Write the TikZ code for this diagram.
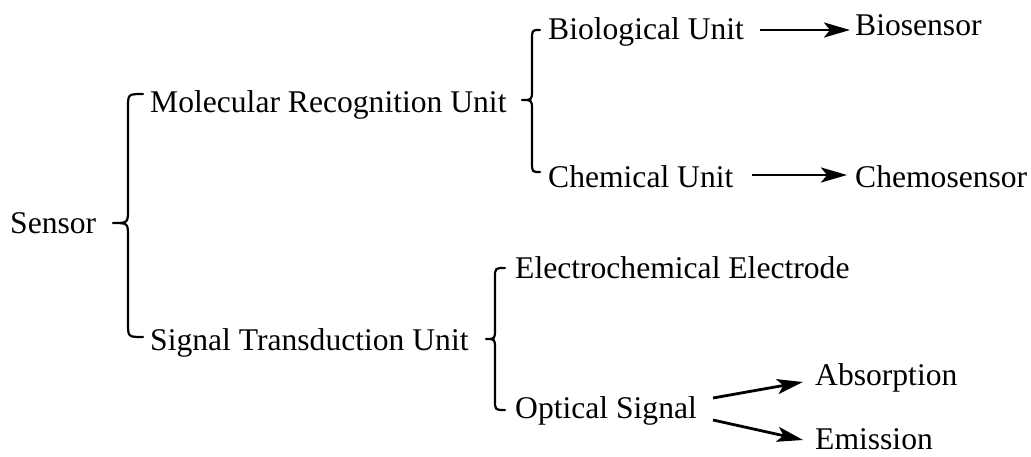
\documentclass[tikz,border=0pt]{standalone}
\usepackage{fontspec}
\setmainfont{Liberation Serif}
\usetikzlibrary{arrows.meta}
\tikzset{
  lbl/.style={anchor=base west, inner sep=0pt, font=\fontsize{31.6}{36}\selectfont},
  brc/.style={line width=2.2pt, line cap=round, line join=round},
  arr/.style={line width=2.8pt, -{Stealth[length=26pt,width=15pt,inset=6pt]}},
}
\newcommand\mybrace[7]{% xend xvert xtip ytop ymid ybot r
  \draw[brc] (#1,#4) .. controls (#2,#4) .. (#2,#4+#7) -- (#2,#5-#7)
    .. controls (#2,#5) .. (#3,#5) .. controls (#2,#5) .. (#2,#5+#7)
    -- (#2,#6-#7) .. controls (#2,#6) .. (#1,#6);}
\begin{document}
\begin{tikzpicture}[x=1pt,y=-1pt]
\useasboundingbox (0,0) rectangle (1031,456);
\node[lbl] (sensor) at (10,233) {Sensor};
\node[lbl] (mru) at (150,112) {Molecular Recognition Unit};
\node[lbl] (stu) at (150,350) {Signal Transduction Unit};
\node[lbl] (bio) at (548,39) {Biological Unit};
\node[lbl] (chem) at (548,187) {Chemical Unit};
\node[lbl] (biosens) at (855,35) {Biosensor};
\node[lbl] (chemosens) at (855,187) {Chemosensor};
\node[lbl] (ece) at (515,278) {Electrochemical Electrode};
\node[lbl] (opt) at (515,418) {Optical Signal};
\node[lbl] (abs) at (815,385) {Absorption};
\node[lbl] (emi) at (815,449) {Emission};
\mybrace{143}{128}{113}{94}{223}{337}{14}
\mybrace{540}{532}{522}{30}{100}{172}{10}
\mybrace{505}{495}{486}{268}{339}{410}{10}
\coordinate (b1) at (760,30); \coordinate (b2) at (850,30);
\coordinate (c1) at (752,175); \coordinate (c2) at (847,175);
\coordinate (o1) at (713,398); \coordinate (o2) at (803,382);
\coordinate (o3) at (713,420); \coordinate (o4) at (803,440);
\draw[arr] (b1) -- (b2);
\draw[arr] (c1) -- (c2);
\draw[arr] (o1) -- (o2);
\draw[arr] (o3) -- (o4);
\end{tikzpicture}
\end{document}
